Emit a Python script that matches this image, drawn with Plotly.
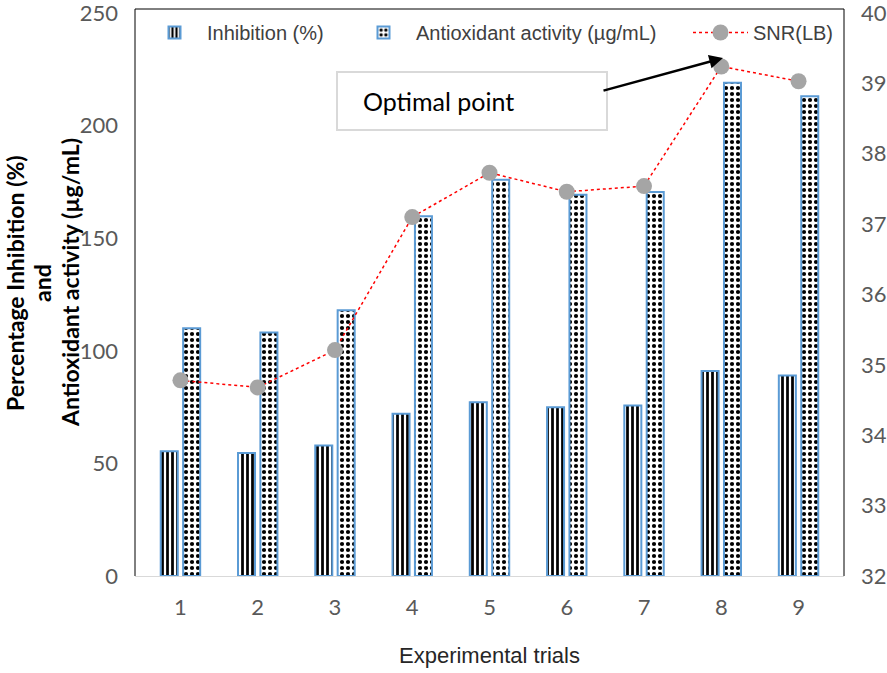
import plotly.graph_objects as go

trials = ["1", "2", "3", "4", "5", "6", "7", "8", "9"]
inhibition = [55.4, 54.6, 58.0, 72.1, 77.1, 74.9, 75.7, 91.0, 89.0]
antioxidant = [110.0, 108.1, 118.0, 159.7, 176.0, 169.3, 170.5, 219.0, 213.0]
snr = [34.78, 34.68, 35.21, 37.10, 37.73, 37.46, 37.54, 39.24, 39.03]

left_ticks = [0, 50, 100, 150, 200, 250]
right_ticks = [32, 33, 34, 35, 36, 37, 38, 39, 40]

SANS = "Liberation Sans, Arial, sans-serif"
TICKFONT = dict(family="Lato, sans-serif", size=22, color="#595959")
BLUE = "#5b9bd5"

L, R, T, B = 135, 43, 13, 97
W, H = 887, 673
pw, ph = W - L - R, H - T - B

def px(x):
    return (x - L) / pw

def py(y):
    return (H - B - y) / ph

fig = go.Figure()
fig.add_trace(go.Bar(
    x=trials, y=inhibition, name="Inhibition (%)", legend="legend",
    marker=dict(color="white", line=dict(color=BLUE, width=2),
                pattern=dict(shape="|", fgcolor="black", bgcolor="white",
                             size=5, solidity=0.55, fillmode="replace")),
))
fig.add_trace(go.Bar(
    x=trials, y=antioxidant, name="Antioxidant activity (µg/mL)", legend="legend2",
    marker=dict(color="white", line=dict(color=BLUE, width=2),
                pattern=dict(shape=".", fgcolor="black", bgcolor="white",
                             size=6, solidity=0.38, fillmode="replace")),
))
fig.add_trace(go.Scatter(
    x=trials, y=snr, name="SNR(LB)", yaxis="y2", mode="lines+markers", legend="legend3",
    line=dict(color="#ff0000", width=1.5, dash="dot"),
    marker=dict(color="#a5a5a5", size=16),
))

def legend_at(xpix):
    return dict(orientation="h", x=px(xpix), xanchor="left", y=1.0, yanchor="top",
                font=dict(family=SANS, size=20, color="#404040"),
                itemwidth=55, bgcolor="rgba(0,0,0,0)")

fig.update_layout(
    width=W, height=H,
    margin=dict(l=L, r=R, t=T, b=B, autoexpand=False),
    paper_bgcolor="white", plot_bgcolor="white",
    barmode="group", bargap=0.42, bargroupgap=0.24,
    showlegend=True,
    legend=legend_at(142),
    legend2=legend_at(351),
    legend3=legend_at(688),
    xaxis=dict(type="category", showline=True, linecolor="#d9d9d9", linewidth=1,
               ticks="", showgrid=False, zeroline=False, tickfont=TICKFONT,
               ticklabelstandoff=12,
               title=dict(text="Experimental trials",
                          font=dict(family=SANS, size=22, color="#262626"),
                          standoff=28)),
    yaxis=dict(range=[0, 250], tickvals=left_ticks, showgrid=False, zeroline=False,
               showline=False, ticks="", tickfont=TICKFONT, ticklabeloverflow="allow",
               ticklabelstandoff=16),
    yaxis2=dict(range=[32, 40], tickvals=right_ticks, overlaying="y", side="right",
                showgrid=False, zeroline=False, showline=False, ticks="",
                ticklabeloverflow="allow", ticklabelstandoff=16,
                tickfont=TICKFONT),
)

# plot frame (left, top, right)
fig.add_shape(type="path", xref="paper", yref="paper",
              path=f"M 0 0 L 0 {py(9)} L 1 {py(9)} L 1 0",
              line=dict(color="black", width=1))

# y-axis title (three centred lines)
ytitle_lines = ["Percentage Inhibition (%)", "and", "Antioxidant activity (µg/mL)"]
for xpos, line in zip([15, 42, 70], ytitle_lines):
    fig.add_annotation(xref="paper", yref="paper", x=px(xpos), y=py(283),
                       text=f"<b>{line}</b>", textangle=-90, showarrow=False,
                       xanchor="center", yanchor="middle",
                       font=dict(family="Lato, sans-serif", size=23, color="black"))

# Optimal point box
fig.add_shape(type="rect", xref="paper", yref="paper",
              x0=px(337), x1=px(607), y0=py(130), y1=py(72),
              line=dict(color="#d9d9d9", width=2), fillcolor="white", layer="above")
fig.add_annotation(xref="paper", yref="paper", x=px(361), y=py(101),
                   text="Optimal point", showarrow=False, xanchor="left", yanchor="middle",
                   font=dict(family="Lato, sans-serif", size=25, color="black"))
fig.add_annotation(xref="paper", yref="paper", x=px(723), y=py(58),
                   ax=602 - 723, ay=91 - 58, axref="pixel", ayref="pixel",
                   text="", showarrow=True, arrowhead=2, arrowsize=1.1,
                   arrowwidth=2.5, arrowcolor="black", standoff=0)

fig.write_html("out.html", config={"displayModeBar": False},
               post_script="document.body.style.margin='0';")
